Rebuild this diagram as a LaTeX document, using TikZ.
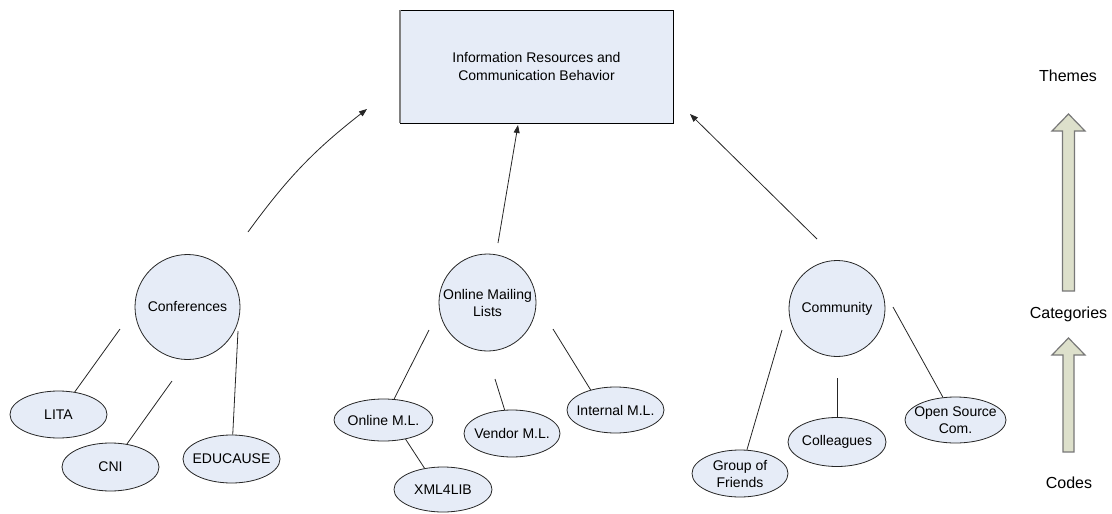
\documentclass[tikz,border=0pt]{standalone}
\usepackage{fontspec}
\setmainfont{Liberation Sans}
\usetikzlibrary{shapes.geometric,arrows.meta}
\definecolor{nodefill}{RGB}{230,236,247}
\definecolor{arrfill}{RGB}{221,224,203}
\definecolor{arrline}{RGB}{120,120,120}
\begin{document}
\begin{tikzpicture}[x=1pt,y=-1pt,
  txt/.style={font=\fontsize{14}{17}\selectfont, align=center, inner sep=0pt},
  cat/.style={circle, draw=black!85, line width=0.8pt, fill=nodefill, inner sep=0pt, txt},
  code/.style={ellipse, draw=black!85, line width=0.8pt, fill=nodefill, inner sep=0pt},
  link/.style={draw=black!85, line width=0.8pt},
  flow/.style={link, -{Triangle[length=8pt,width=6pt]}},
  blockarrow/.style={draw=arrline, fill=arrfill, line width=1.2pt, line join=miter},
  side/.style={font=\fontsize{16}{19}\selectfont, inner sep=0pt, anchor=base}]
\useasboundingbox (0,0) rectangle (1112,514);

% theme box
\node[draw=black, fill=nodefill, line width=0.8pt, minimum width=273pt, minimum height=113pt,
      txt, font=\fontsize{14}{18}\selectfont] (theme) at (536.5,66.5)
      {Information Resources and\\Communication Behavior};
\draw[gray, line width=2pt] (theme.north west) -- (theme.south west);

% categories
\node[cat, minimum size=105pt] (conf) at (187.5,307) {Conferences};
\node[cat, minimum size=97pt] (oml) at (487.5,302.5) {Online Mailing\\Lists};
\node[cat, minimum size=96pt] (comm) at (837,308.5) {Community};

% codes
\node[code, minimum width=97pt, minimum height=47pt, label={[txt]center:LITA}] (lita) at (58.5,414.5) {};
\node[code, minimum width=97pt, minimum height=48pt, label={[txt]center:CNI}] (cni) at (110.5,467) {};
\node[code, minimum width=97pt, minimum height=48pt, label={[txt]center:EDUCAUSE}] (edu) at (231.5,459) {};
\node[code, minimum width=99pt, minimum height=42pt, label={[txt]center:Online M.L.}] (onml) at (383.5,420) {};
\node[code, minimum width=96pt, minimum height=47pt, label={[txt]center:Vendor M.L.}] (vml) at (512,433.5) {};
\node[code, minimum width=97pt, minimum height=46pt, label={[txt]center:Internal M.L.}] (iml) at (615.5,410) {};
\node[code, minimum width=98pt, minimum height=45pt, label={[txt]center:XML4LIB}] (xml) at (443,489.5) {};
\node[code, minimum width=96pt, minimum height=47pt, label={[txt]center:Group of\\Friends}] (gof) at (740,473.5) {};
\node[code, minimum width=98pt, minimum height=49pt, label={[txt]center:Colleagues}] (coll) at (837,442) {};
\node[code, minimum width=101pt, minimum height=46pt, label={[txt]center:Open Source\\Com.}] (osc) at (955.5,420) {};

% free ends of connectors
\coordinate (c1) at (120,329);
\coordinate (c2) at (172,381);
\coordinate (c3) at (238,331);
\coordinate (m1) at (429,330);
\coordinate (m2) at (495,379);
\coordinate (m3) at (553,329);
\coordinate (k1) at (782,330);
\coordinate (k2) at (837,378);
\coordinate (k3) at (893,307);

\draw[link] (c1) -- (lita);
\draw[link] (c2) -- (cni);
\draw[link] (c3) -- (edu);
\draw[link] (m1) -- (onml);
\draw[link] (m2) -- (vml);
\draw[link] (m3) -- (iml.141);
\draw[link] (onml.-41) -- (xml.131);
\draw[link] (k1) -- (gof);
\draw[link] (k2) -- (coll);
\draw[link] (k3) -- (osc);

% arrows to theme
\coordinate (a1s) at (248,232);
\coordinate (a1e) at (367,109);
\coordinate (a2s) at (498,243);
\coordinate (a2e) at (518,125);
\coordinate (a3s) at (817,239);
\coordinate (a3e) at (690,114);
\draw[flow] (a1s) to[bend left=8] (a1e);
\draw[flow] (a2s) -- (a2e);
\draw[flow] (a3s) -- (a3e);

% side legend
\node[side] (themes) at (1068,81) {Themes};
\node[side] (cats) at (1068.5,318.5) {Categories};
\node[side] (codes) at (1069,488) {Codes};
\draw[blockarrow] (1062.5,291) -- (1062.5,131) -- (1052,131) -- (1068.5,114) -- (1085,131)
  -- (1074.5,131) -- (1074.5,291) -- cycle;
\draw[blockarrow] (1063,452) -- (1063,355) -- (1052,355) -- (1068.5,338) -- (1085,355)
  -- (1074,355) -- (1074,452) -- cycle;
\end{tikzpicture}
\end{document}
